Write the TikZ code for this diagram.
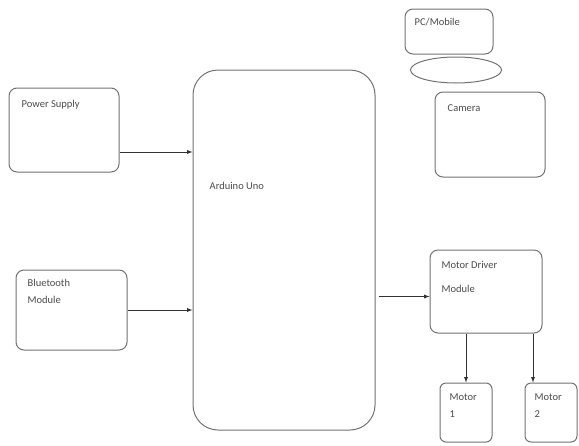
\documentclass[tikz,border=0pt]{standalone}
\usepackage{fontspec}
\setmainfont{Carlito}
\usepackage{tikz}
\usetikzlibrary{positioning, arrows, shapes.geometric}

\begin{document}
\begin{tikzpicture}[
  x = 1pt,
  y = -1pt,
  block/.style = {
    draw = black!55,
    line width = 1pt,
    rounded corners = 8pt,
    fill = white
  },
  label/.style = {
    inner sep = 0pt,
    align = left,
    font = \fontsize{10.5}{17}\selectfont,
    text = black!70
  },
  connection/.style = {
    -latex,
    black!80,
    line width = 0.9pt
  },
  ]
  % \draw[help lines, red] (0, 0) grid[step=50] (579, 445);
  \useasboundingbox (0, 0) rectangle (579, 445);

  % Inputs on the left.
  \node[block, minimum width=110, minimum height=84] (PS) at (64, 130) {};
  \node[label, below right=13pt and 13pt of PS.north west] (PS-text) {Power Supply};
  \node[block, minimum width=111, minimum height=80] (BT) at (71.5, 310) {};
  \node[label, below right=10pt and 12pt of BT.north west] (BT-text) {Bluetooth\\Module};

  % Controller.
  \node[block, rounded corners=25pt, minimum width=182, minimum height=360] (ARD) at (284, 250) {};
  \node[label, below right=113pt and 17pt of ARD.north west] (ARD-text) {Arduino Uno};

  % Top right devices.
  \node[block, minimum width=88, minimum height=45] (PC) at (449, 31.5) {};
  \node[label, below right=10pt and 10pt of PC.north west] (PC-text) {PC/Mobile};
  \node[ellipse, draw=black!55, line width=1pt, minimum width=91, minimum height=26] (BASE) at (456, 70) {};
  \node[block, minimum width=110, minimum height=85] (CAM) at (490, 134.5) {};
  \node[label, below right=13pt and 13pt of CAM.north west] (CAM-text) {Camera};

  % Driver and motors.
  \node[block, minimum width=112, minimum height=83] (MD) at (486, 291.5) {};
  \node[label, font=\fontsize{10.5}{24}\selectfont, below right=12pt and 12pt of MD.north west] (MD-text) {Motor Driver\\Module};
  \foreach \name/\x in {1/466, 2/551} {
    \node[block, rounded corners=6pt, minimum width=52, minimum height=59] (M-\name) at (\x, 412.5) {};
    \node[label, below right=11pt and 10pt of M-\name.north west] (M-\name-text) {Motor\\\name};
  }
  \coordinate (M-2-in) at ([xshift=-18pt]M-2.north);

  % Connections into the controller.
  \draw[connection] ([yshift=-22pt]PS.east) -- ([yshift=-22pt]PS.east -| ARD.west);
  \draw[connection] (BT.east) -- (BT.east -| ARD.west);
  % Connection to the driver.
  \draw[connection] ([xshift=3pt, yshift=-5pt]MD.west -| ARD.east) -- ([yshift=-5pt]MD.west);
  % Connections to the motors.
  \draw[connection] (MD.south -| M-1.north) -- (M-1.north);
  \draw[connection] (MD.south -| M-2-in) -- (M-2-in);
\end{tikzpicture}
\end{document}
